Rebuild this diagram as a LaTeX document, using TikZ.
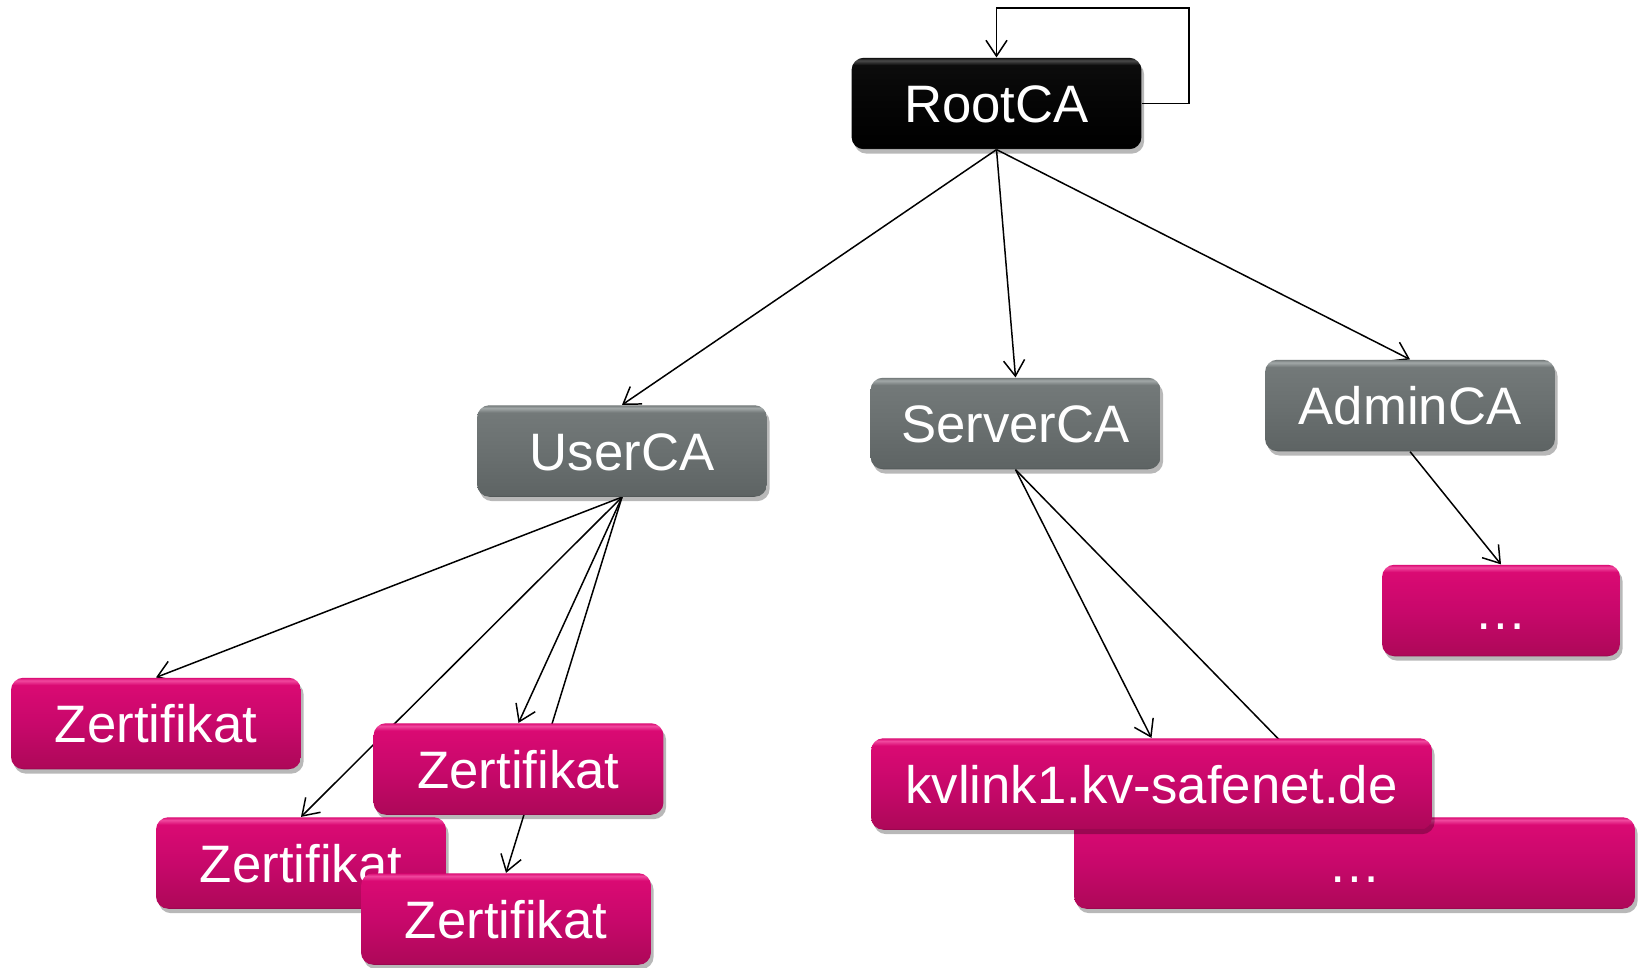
\documentclass[tikz,border=0pt]{standalone}
\usepackage{fontspec}
\setmainfont{Liberation Sans}
\usetikzlibrary{arrows.meta,shadows}
\definecolor{magB}{HTML}{8E0649}
\definecolor{magL}{HTML}{AE0859}
\definecolor{magM}{HTML}{C8086B}
\definecolor{magT}{HTML}{DA0A73}
\definecolor{magH}{HTML}{F0489E}
\definecolor{grB}{HTML}{4C5252}
\definecolor{grL}{HTML}{5E6464}
\definecolor{grM}{HTML}{6A7070}
\definecolor{grT}{HTML}{737979}
\definecolor{grH}{HTML}{A2A8A8}
\definecolor{blB}{HTML}{1E1E1E}
\definecolor{blL}{HTML}{000000}
\definecolor{blM}{HTML}{050505}
\definecolor{blT}{HTML}{0C0C0C}
\definecolor{blH}{HTML}{4A4A4A}
\pgfdeclareverticalshading{magshade}{100bp}{color(0bp)=(magB); color(25bp)=(magB); color(26bp)=(magL); color(50bp)=(magM); color(71bp)=(magT); color(73.5bp)=(magH); color(75bp)=(magT); color(100bp)=(magT)}
\pgfdeclareverticalshading{grshade}{100bp}{color(0bp)=(grB); color(25bp)=(grB); color(26bp)=(grL); color(50bp)=(grM); color(71bp)=(grT); color(73.5bp)=(grH); color(75bp)=(grT); color(100bp)=(grT)}
\pgfdeclareverticalshading{blshade}{100bp}{color(0bp)=(blB); color(25bp)=(blB); color(26bp)=(blL); color(50bp)=(blM); color(71bp)=(blT); color(73.5bp)=(blH); color(75bp)=(blT); color(100bp)=(blT)}
\pgfdeclarelayer{bg}
\pgfsetlayers{bg,main}
\tikzset{
  box/.style={rounded corners=7pt, minimum width=5.8cm, minimum height=1.83cm,
    inner sep=0pt, text=white, font=\fontsize{30}{36}\selectfont,
    text height=22pt, text depth=0pt,
    drop shadow={shadow xshift=1.5pt, shadow yshift=-2.5pt, opacity=0.28, fill=black}},
  magbox/.style={box, shading=magshade},
  grbox/.style={box, shading=grshade},
  blbox/.style={box, shading=blshade},
  conn/.style={line width=0.85pt, -{Straight Barb[length=9pt,width=12pt,line width=0.85pt]}},
}
\begin{document}
\begin{tikzpicture}[x=0.02cm,y=-0.02cm]
\useasboundingbox (0,0) rectangle (1638,967);
% CAs
\node[blbox] (root) at (996.5,103.5) {RootCA};
\node[grbox] (user) at (622,451) {UserCA};
\node[grbox] (server) at (1015.5,423.5) {ServerCA};
\node[grbox] (admin) at (1410,405.5) {AdminCA};
% leaves
\node[magbox, minimum width=4.76cm] (adots) at (1501,610.5) {…};
\node[magbox] (z1) at (156,723.5) {Zertifikat};
\node[magbox] (z2) at (518.5,769) {Zertifikat};
\node[magbox] (z3) at (301,863) {Zertifikat};
\node[magbox] (z4) at (506,919) {Zertifikat};
\node[magbox, minimum width=11.22cm] (sdots) at (1354.5,863) {…};
\node[magbox, minimum width=11.22cm] (kv) at (1151.5,784) {kvlink1.kv-safenet.de};
\coordinate (loop) at (1189,8);
\begin{pgfonlayer}{bg}
\draw[conn] (root.east) -| (loop) -| (root.north);
\draw[conn] (root.south) -- (user.north);
\draw[conn] (root.south) -- (server.north);
\draw[conn] (root.south) -- (admin.north);
\draw[conn] (user.south) -- (z1.north);
\draw[conn] (user.south) -- (z2.north);
\draw[conn] (user.south) -- (z3.north);
\draw[conn] (user.south) -- (z4.north);
\draw[conn] (server.south) -- (kv.north);
\draw[conn] (server.south) -- (sdots.north);
\draw[conn] (admin.south) -- (adots.north);
\end{pgfonlayer}
\end{tikzpicture}
\end{document}
